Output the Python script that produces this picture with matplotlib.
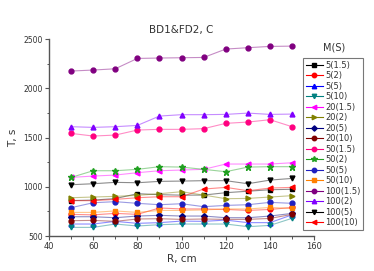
import matplotlib
matplotlib.use("Agg")
import matplotlib.pyplot as plt


# R, cm
r_cm = [50, 60, 70, 80, 90, 100, 110, 120, 130, 140, 150]

# T, s for every M(S) series
t_5_15   = [860, 865, 880, 930, 920, 915, 916, 940, 955, 970, 975]
t_5_2    = [720, 715, 730, 720, 785, 775, 775, 770, 760, 770, 790]
t_5_5    = [622, 622, 649, 629, 636, 652, 649, 662, 636, 636, 715]
t_5_10   = [588, 588, 622, 602, 615, 622, 622, 622, 595, 608, 680]
t_20_15  = [1095, 1109, 1119, 1143, 1163, 1170, 1177, 1231, 1231, 1231, 1244]
t_20_2   = [889, 896, 903, 913, 930, 950, 916, 879, 882, 896, 910]
t_20_5   = [696, 696, 686, 703, 710, 703, 703, 686, 686, 703, 730]
t_20_10  = [656, 659, 649, 673, 676, 669, 673, 669, 669, 679, 720]
t_50_15  = [1542, 1515, 1525, 1576, 1583, 1583, 1590, 1644, 1657, 1681, 1610]
t_50_2   = [1095, 1163, 1163, 1177, 1204, 1200, 1177, 1153, 1200, 1204, 1204]
t_50_5   = [788, 838, 849, 832, 818, 828, 798, 811, 818, 842, 832]
t_50_10  = [740, 740, 755, 740, 760, 760, 765, 775, 775, 790, 780]
t_100_15 = [2175, 2185, 2198, 2303, 2307, 2310, 2313, 2398, 2412, 2425, 2428]
t_100_2  = [1610, 1603, 1610, 1623, 1718, 1732, 1732, 1735, 1748, 1735, 1738]
t_100_5  = [1021, 1031, 1045, 1041, 1055, 1058, 1062, 1062, 1031, 1068, 1085]
t_100_10 = [859, 859, 872, 889, 899, 899, 977, 994, 960, 987, 994]

labels = ['5(1.5)', '5(2)', '5(5)', '5(10)',
          '20(1.5)', '20(2)', '20(5)', '20(10)',
          '50(1.5)', '50(2)', '50(5)', '50(10)',
          '100(1.5)', '100(2)', '100(5)', '100(10)']
series = [t_5_15, t_5_2, t_5_5, t_5_10,
          t_20_15, t_20_2, t_20_5, t_20_10,
          t_50_15, t_50_2, t_50_5, t_50_10,
          t_100_15, t_100_2, t_100_5, t_100_10]

# Origin-like colours and symbols
colors  = ['#000000', '#FF0000', '#0000FF', '#008080',
           '#FF00FF', '#808000', '#000080', '#800000',
           '#FF0080', '#20A020', '#2020C0', '#FF8000',
           '#800080', '#8000FF', '#000000', '#FF0000']
markers = ['s', 'o', '^', 'v',
           '<', '>', 'D', 'o',
           'o', '*', 'o', 's',
           'o', '^', 'v', '<']


fig = plt.figure(figsize=(3.74, 2.71), dpi=100, facecolor='white')
ax = fig.add_axes([0.131, 0.129, 0.709, 0.727])

handles = []
for lab, vals, c, m in zip(labels, series, colors, markers):
    ms = 4.5 if m == '*' else 3.5
    if m == 'D':
        ms = 3.0
    # thin pale line, solid marker
    ax.plot(r_cm, vals, '-', color=c, lw=0.8, alpha=0.45, zorder=2)
    ax.plot(r_cm, vals, ls='none', marker=m, color=c, ms=ms, mec=c, zorder=3)
    h, = ax.plot([], [], '-', color=c, lw=0.8, marker=m, ms=ms - 0.3, mec=c, label=lab)
    handles.append(h)

ax.set_xlim(40, 160)
ax.set_ylim(500, 2500)
ax.set_xticks([40, 60, 80, 100, 120, 140, 160])
ax.set_xticks(range(50, 160, 20), minor=True)
ax.set_yticks([500, 1000, 1500, 2000, 2500])
ax.set_yticks([750, 1250, 1750, 2250], minor=True)

for s in ['top', 'right']:
    ax.spines[s].set_visible(False)
for s in ['left', 'bottom']:
    ax.spines[s].set_color('#555555')
    ax.spines[s].set_linewidth(1.0)

ax.tick_params(which='major', direction='out', length=3, width=0.8,
               colors='#555555', labelcolor='#333333', pad=1.5)
ax.tick_params(axis='x', labelsize=6)
ax.tick_params(axis='y', labelsize=5.5)
ax.tick_params(which='minor', direction='out', length=1.8, width=0.7,
               colors='#555555')

ax.set_xlabel('R, cm', fontsize=7.5, color='#333333', labelpad=2)
ax.set_ylabel('T, s', fontsize=7.5, color='#333333', labelpad=4)
ax.set_title('BD1&FD2, C', fontsize=7.5, color='#333333', pad=4)

leg = fig.legend(handles=handles, loc='upper left',
                 bbox_to_anchor=(0.81, 0.786), fontsize=6,
                 handlelength=2.0, handletextpad=0.3, labelspacing=0.18,
                 borderpad=0.35, frameon=True, fancybox=False,
                 borderaxespad=0)
leg.get_frame().set_edgecolor('#555555')
leg.get_frame().set_linewidth(0.8)
for t in leg.get_texts():
    t.set_color('#333333')
fig.text(0.893, 0.805, 'M(S)', fontsize=7, color='#333333',
         ha='center', va='bottom')

fig.savefig('out.png', dpi=100, facecolor='white')
